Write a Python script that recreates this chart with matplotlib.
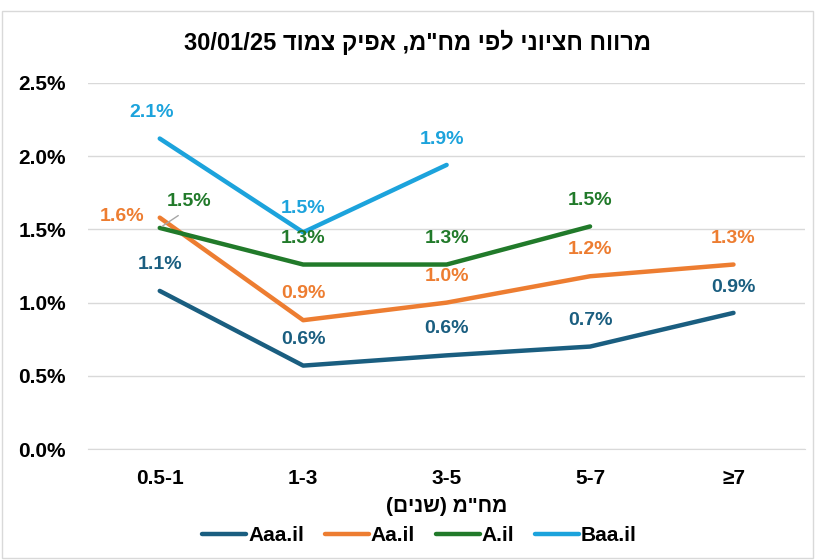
import matplotlib
matplotlib.use("Agg")
import matplotlib.pyplot as plt
from matplotlib.patches import Rectangle

plt.rcParams["font.family"] = ["Liberation Sans", "DejaVu Sans"]
plt.rcParams["font.weight"] = "bold"

categories = ["0.5-1", "1-3", "3-5", "5-7", "≥7"]
aaa = [1.08, 0.57, 0.64, 0.70, 0.93]
aa = [1.58, 0.88, 1.00, 1.18, 1.26]
a_il = [1.51, 1.26, 1.26, 1.52, None]
baa = [2.12, 1.48, 1.94, None, None]
yticks = [0.0, 0.5, 1.0, 1.5, 2.0, 2.5]

title_he = "מרווח חציוני לפי מח\"מ, אפיק צמוד"
title_date = "30/01/25"
xlabel_he = "מח\"מ (שנים)"


def visual(s):
    # matplotlib has no bidi, so flip the hebrew text by hand
    mirror = {"(": ")", ")": "("}
    return "".join(mirror.get(c, c) for c in reversed(s))


series = [
    ("Aaa.il", aaa, "#1A5E80"),
    ("Aa.il", aa, "#ED7D31"),
    ("A.il", a_il, "#217A2A"),
    ("Baa.il", baa, "#1CA3DC"),
]

# label offsets in points (dx, dy), one per point
offsets = {
    "Aaa.il": [(0, 19), (0, 19), (0, 19), (0, 19), (0, 18)],
    "Aa.il": [(-27, 1), (0, 19), (0, 19), (0, 19), (0, 19)],
    "A.il": [(21, 19), (0, 19), (0, 19), (0, 19), None],
    "Baa.il": [(-6, 19), (0, 17), (-3, 18), None, None],
}

fig = plt.figure(figsize=(8.15, 5.6), dpi=100)
fig.patches.append(Rectangle((0.003, 0.003), 0.994, 0.978, transform=fig.transFigure,
                             fill=False, edgecolor="#D9D9D9", linewidth=1))
ax = fig.add_axes([0.108, 0.198, 0.88, 0.654])

x = list(range(len(categories)))
for name, vals, color in series:
    xs = [i for i, v in zip(x, vals) if v is not None]
    ys = [v for v in vals if v is not None]
    ax.plot(xs, ys, color=color, linewidth=3.2, label=name,
            solid_capstyle="round", solid_joinstyle="round")
    for i, v in zip(xs, ys):
        dx, dy = offsets[name][i]
        ax.annotate(f"{v:.1f}%", (i, v), xytext=(dx, dy), textcoords="offset points",
                    ha="center", va="center", color=color, fontsize=14,
                    fontweight="bold")

# leader line for the A.il label at 0.5-1
ax.annotate("", (0, a_il[0]), xytext=(15, 10), textcoords="offset points",
            arrowprops=dict(arrowstyle="-", color="#A6A6A6", linewidth=1))

ax.set_xlim(-0.5, len(categories) - 0.5)
ax.set_ylim(0, 2.5)
ax.set_yticks(yticks)
ax.set_yticklabels([f"{t:.1f}%" for t in yticks])
ax.set_xticks(x)
ax.set_xticklabels(categories)
ax.grid(axis="y", color="#D9D9D9", linewidth=1)
ax.set_axisbelow(True)
for side in ["top", "right", "left"]:
    ax.spines[side].set_visible(False)
ax.spines["bottom"].set_color("#D9D9D9")
ax.tick_params(axis="both", length=0, labelsize=15)
ax.tick_params(axis="x", pad=14)
ax.tick_params(axis="y", pad=16)
for lbl in ax.get_xticklabels() + ax.get_yticklabels():
    lbl.set_fontweight("bold")

ax.set_xlabel(visual(xlabel_he), fontsize=15, fontweight="bold", labelpad=7)
fig.text(0.512, 0.925, title_date + " " + visual(title_he), ha="center", va="center",
         fontsize=17, fontweight="bold")

leg = fig.legend(loc="center", bbox_to_anchor=(0.515, 0.043), ncol=4, frameon=False,
                 fontsize=15, handlelength=2.1, handletextpad=0.1, columnspacing=1.0)
for t in leg.get_texts():
    t.set_fontweight("bold")

fig.savefig("out.png", dpi=100)
